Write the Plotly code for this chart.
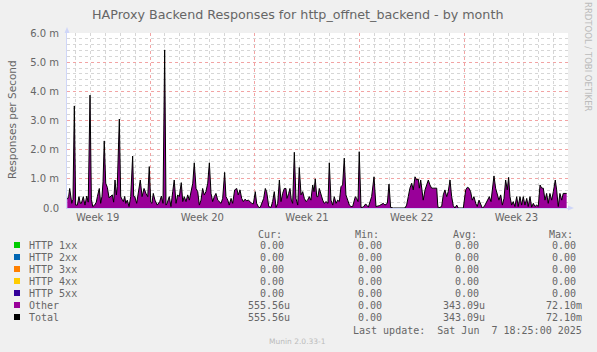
import plotly.graph_objects as go

# ---------------- data ----------------
# time in days since the start of the "Week 19" interval
DAYS = [1.47, 1.56, 1.63, 1.70, 1.77, 1.85, 1.94, 2.03, 2.14, 2.25, 2.34, 2.41, 2.54, 2.65, 2.77, 2.87,
        2.99, 3.08, 3.17, 3.30, 3.41, 3.48, 3.61, 3.70, 3.79, 3.86, 3.94, 4.04, 4.15, 4.26, 4.37, 4.48,
        4.57, 4.66, 4.75, 4.81, 4.95, 5.04, 5.13, 5.22, 5.31, 5.38, 5.48, 5.60, 5.71, 5.80, 5.84, 5.91,
        5.98, 6.11, 6.24, 6.35, 6.47, 6.60, 6.73, 6.85, 6.95, 7.05, 7.13, 7.22, 7.33, 7.49, 7.65, 7.76,
        7.87, 7.98, 8.07, 8.14, 8.29, 8.40, 8.52, 8.62, 8.74, 8.85, 8.96, 9.09, 9.19, 9.29, 9.41, 9.52,
        9.63, 9.76, 9.86, 9.96, 10.08, 10.19, 10.30, 10.41, 10.52, 10.63, 10.74, 10.86, 10.97, 11.08,
        11.19, 11.30, 11.41, 11.53, 11.63, 11.75, 11.86, 11.99, 12.08, 12.20, 12.30, 12.42, 12.53,
        12.66, 12.80, 12.90, 13.02, 13.13, 13.24, 13.35, 13.47, 13.57, 13.69, 13.80, 13.91, 14.04,
        14.13, 14.27, 14.37, 14.49, 14.60, 14.71, 14.80, 14.94, 15.09, 15.20, 15.31, 15.43, 15.54,
        15.65, 15.76, 15.87, 15.98, 16.09, 16.16, 16.27, 16.36, 16.45, 16.54, 16.65, 16.76, 16.88,
        16.98, 17.10, 17.21, 17.32, 17.43, 17.54, 17.65, 17.76, 17.88, 17.97, 18.05, 18.15, 18.23,
        18.32, 18.43, 18.55, 18.65, 18.77, 18.90, 18.99, 19.10, 19.22, 19.32, 19.44, 19.55, 19.66,
        19.77, 19.88, 19.99, 20.10, 20.22, 20.33, 20.44, 20.55, 20.73, 20.82, 20.91, 20.99, 21.11,
        21.26, 21.42, 21.60, 21.82, 21.98, 22.11, 22.33, 22.60, 22.71, 22.87, 22.98, 23.09, 23.27,
        24.05, 24.16, 24.27, 24.38, 24.50, 24.60, 24.72, 24.83, 24.94, 25.01, 25.10, 25.19, 25.27,
        25.39, 25.50, 25.61, 25.72, 25.83, 25.94, 26.06, 26.17, 26.24, 26.28, 26.50, 26.61, 26.72,
        26.84, 26.94, 27.06, 27.17, 27.28, 27.39, 27.51, 27.61, 27.95, 28.11, 28.22, 28.33, 28.44,
        28.55, 28.66, 28.78, 28.88, 29.00, 29.11, 29.22, 29.35, 29.47, 29.58, 29.69, 29.80, 29.91,
        30.00, 30.11, 30.22, 30.33, 30.45, 30.56, 30.67, 30.78, 30.89, 30.98, 31.07, 31.18, 31.29,
        31.40, 31.52, 31.62, 31.74, 31.85, 31.96, 32.07, 32.19, 32.29, 32.41, 32.52, 32.63, 32.74,
        32.86, 32.96, 33.08, 33.19, 33.30, 33.41, 33.52, 33.63, 33.74, 33.86, 33.97, 34.10, 34.19,
        34.30, 34.41, 34.53, 34.63, 34.75, 34.86]

# "Other" responses per second, in milli-units (m)
OTHER = [0.30, 0.39, 0.67, 0.45, 0.16, 0.30, 3.50, 0.10, 0.10, 0.39, 0.16, 0.16, 0.39, 0.10, 0.41, 0.20,
         3.87, 0.30, 0.05, 0.10, 0.20, 0.39, 0.67, 0.16, 0.40, 0.90, 2.30, 0.85, 0.70, 0.35, 0.39, 0.45,
         0.20, 0.96, 0.45, 0.73, 3.05, 0.39, 0.30, 0.22, 0.40, 0.16, 0.27, 0.05, 0.39, 1.70, 1.78, 0.40,
         0.39, 0.16, 0.67, 0.96, 0.39, 0.67, 0.50, 0.39, 1.42, 0.20, 0.16, 0.50, 0.27, 0.10, 0.22, 0.41,
         0.16, 5.42, 0.10, 0.16, 0.39, 0.05, 0.56, 0.96, 0.16, 0.45, 0.39, 0.87, 0.22, 0.39, 0.22, 0.45,
         0.27, 0.56, 0.85, 1.55, 0.67, 0.56, 0.10, 0.27, 0.67, 0.45, 0.56, 0.85, 1.55, 0.50,
         0.22, 0.39, 0.50, 0.27, 0.22, 0.16, 0.33, 1.22, 0.39, 0.27, 0.10, 0.33, 0.16,
         0.62, 0.67, 0.45, 0.62, 0.33, 0.22, 0.30, 0.25, 0.27, 0.22, 0.16, 0.14, 0.56,
         0.16, 0.02, 0.02, 0.16, 0.33, 0.67, 0.56, 0.05, 0.02, 0.22, 0.56, 0.02, 0.16,
         0.96, 0.22, 0.50, 0.67, 0.67, 0.33, 0.50, 0.67, 0.27, 0.16, 1.91, 0.33, 0.10,
         1.39, 0.45, 0.56, 0.33, 0.22, 0.27, 0.39, 0.27, 0.79, 0.56, 1.00, 0.39, 0.39,
         0.67, 0.45, 0.27, 0.16, 0.22, 0.16, 1.55, 0.27, 0.10, 0.39, 0.16, 0.27, 0.22,
         0.73, 0.79, 1.71, 0.45, 0.27, 0.10, 0.05, 0.05, 0.39, 0.33, 0.22, 1.93, 0.02,
         0.03, 0.14, 0.03, 0.39, 1.07, 0.05, 0.08, 0.16, 0.10, 0.16, 0.82, 0.02, 0.00,
         0.00, 0.10, 0.39, 0.68, 0.85, 0.62, 1.07, 0.96, 0.99, 0.68, 0.96, 0.56, 0.27,
         0.62, 0.79, 0.96, 0.79, 0.68, 0.68, 0.68, 0.68, 0.10, 0.00, 0.05, 0.45, 0.62,
         0.39, 0.56, 0.96, 0.39, 0.08, 0.00, 0.10, 0.00, 0.00, 0.62, 0.71, 0.68, 0.56,
         0.27, 0.39, 0.16, 0.05, 0.27, 0.10, 0.00, 0.05, 0.16, 0.27, 0.39, 0.22, 0.68,
         1.10, 0.68, 0.45, 0.27, 0.45, 0.10, 0.33, 0.96, 0.62, 1.05, 0.39, 0.10, 0.22,
         0.05, 0.39, 0.05, 0.39, 0.10, 0.39, 0.10, 0.33, 0.05, 0.39, 0.03, 0.16, 0.05,
         0.10, 0.05, 0.79, 0.68, 0.68, 0.27, 0.50, 0.16, 0.50, 0.27, 0.56, 0.96, 0.62,
         0.05, 0.50, 0.27, 0.50, 0.50, 0.50]

WEEK_BOUNDS = [0, 7, 14, 21, 28, 35]
WEEK_MIDS = [3.5, 10.5, 17.5, 24.5, 31.5]
WEEK_LABELS = ["Week 19", "Week 20", "Week 21", "Week 22", "Week 23"]

Y_TICKS = [0, 1, 2, 3, 4, 5, 6]
Y_LABELS = ["0.0", "1.0 m", "2.0 m", "3.0 m", "4.0 m", "5.0 m", "6.0 m"]

SERIES = ["HTTP 1xx", "HTTP 2xx", "HTTP 3xx", "HTTP 4xx", "HTTP 5xx", "Other", "Total"]
COLORS = ["#00CC00", "#0066B3", "#FF8000", "#FFCC00", "#330099", "#990099", "#000000"]
CUR = ["0.00 ", "0.00 ", "0.00 ", "0.00 ", "0.00 ", "555.56u", "555.56u"]
MIN = ["0.00 ", "0.00 ", "0.00 ", "0.00 ", "0.00 ", "0.00 ", "0.00 "]
AVG = ["0.00 ", "0.00 ", "0.00 ", "0.00 ", "0.00 ", "343.09u", "343.09u"]
MAX = ["0.00 ", "0.00 ", "0.00 ", "0.00 ", "0.00 ", "72.10m", "72.10m"]

TITLE = "HAProxy Backend Responses for http_offnet_backend - by month"
Y_TITLE = "Responses per Second"
LAST_UPDATE = "Last update:  Sat Jun  7 18:25:00 2025"
VERSION = "Munin 2.0.33-1"

# ---------------- layout geometry ----------------
W, H = 597, 352
L, R, T, B = 67, 29, 33, 144
PW, PH = W - L - R, H - T - B
BOTTOM = H - B

def px(x):
    return (x - L) / PW

def py(y):
    return (BOTTOM - y) / PH

FONT = "DejaVu Sans, Verdana, sans-serif"
MONO = "DejaVu Sans Mono, monospace"
TXT = "#666666"
AXIS = "#CFD6F8"

def nb(s):
    return s.replace(" ", "\u00a0")

# minor grid positions (daily / every 0.2), skipping the major grid positions
X_MINOR = [d for d in range(0, 36) if d % 7 != 0]
Y_MINOR = [round(k * 0.2, 1) for k in range(0, 31) if k % 5 != 0]

fig = go.Figure()
fig.add_trace(go.Scatter(x=DAYS, y=OTHER, mode="lines", line=dict(width=0, color="#990099"),
                         fill="tozeroy", fillcolor="#990099", hoverinfo="skip", showlegend=False))
fig.add_trace(go.Scatter(x=DAYS, y=OTHER, mode="lines", line=dict(width=1, color="#000000"),
                         showlegend=False))
# dummy trace so that the overlay axis is drawn
fig.add_trace(go.Scatter(x=[WEEK_BOUNDS[0]], y=[0], xaxis="x2", mode="markers",
                         marker=dict(opacity=0), hoverinfo="skip", showlegend=False))

grid_minor = "#D6D6D6"
grid_major = "#F2A4A4"

fig.update_layout(
    width=W, height=H,
    margin=dict(l=L, r=R, t=T, b=B, pad=0),
    paper_bgcolor="#F0F0F0", plot_bgcolor="#FFFFFF",
    showlegend=False,
    xaxis=dict(range=[1.45, 34.95], tickmode="array", tickvals=WEEK_MIDS, ticktext=WEEK_LABELS,
               showgrid=False, zeroline=False, ticks="", showline=True, linecolor=AXIS, linewidth=1,
               tickfont=dict(family=FONT, size=10, color=TXT),
               minor=dict(tickmode="array", tickvals=X_MINOR, showgrid=True, gridcolor=grid_minor,
                          griddash="dot", gridwidth=1, ticks="")),
    xaxis2=dict(range=[1.45, 34.95], overlaying="x", anchor="y", tickmode="array",
                tickvals=WEEK_BOUNDS, showticklabels=False, showgrid=True, gridcolor=grid_major,
                griddash="dot", gridwidth=1, zeroline=False, ticks="", showline=False),
    yaxis=dict(range=[0, 6], tickmode="array", tickvals=Y_TICKS, ticktext=Y_LABELS,
               showgrid=True, gridcolor=grid_major, griddash="dot", gridwidth=1,
               zeroline=False, ticks="", showline=True, linecolor=AXIS, linewidth=1,
               ticklabelstandoff=5,
               tickfont=dict(family=FONT, size=10, color=TXT),
               minor=dict(tickmode="array", tickvals=Y_MINOR, showgrid=True, gridcolor=grid_minor,
                          griddash="dot", gridwidth=1, ticks="")),
)

ann = []
ann.append(dict(text=TITLE, x=px(297.5), y=py(14), xref="paper", yref="paper", showarrow=False,
                xanchor="center", yanchor="middle", font=dict(family=FONT, size=12.7, color=TXT)))
ann.append(dict(text=Y_TITLE, x=px(12), y=py(120), xref="paper", yref="paper", showarrow=False,
                textangle=-90, xanchor="center", yanchor="middle",
                font=dict(family=FONT, size=10.5, color=TXT)))
ann.append(dict(text="RRDTOOL / TOBI OETIKER", x=px(588), y=py(57), xref="paper", yref="paper",
                showarrow=False, textangle=90, xanchor="center", yanchor="middle",
                font=dict(family=FONT, size=8.5, color="#BBBBBB")))

header_y = 234
for name, xl in [("Cur:", 256), ("Min:", 353), ("Avg:", 450.7), ("Max:", 546.7)]:
    ann.append(dict(text=name, x=px(xl), y=py(header_y), xref="paper", yref="paper", showarrow=False,
                    xanchor="left", yanchor="middle", font=dict(family=MONO, size=10, color=TXT)))

row_y = [245, 257, 269, 281, 293, 305, 317]
shapes = []
for i, name in enumerate(SERIES):
    yy = row_y[i]
    shapes.append(dict(type="rect", xref="paper", yref="paper", x0=px(14), x1=px(20),
                       y0=py(yy + 3), y1=py(yy - 3), fillcolor=COLORS[i], line=dict(width=0)))
    ann.append(dict(text=nb(name), x=px(27), y=py(yy), xref="paper", yref="paper", showarrow=False,
                    xanchor="left", yanchor="middle", font=dict(family=MONO, size=10, color=TXT)))
    for col, xr in [(CUR, 292), (MIN, 389.5), (AVG, 487), (MAX, 583.5)]:
        ann.append(dict(text=nb(col[i]), x=px(xr), y=py(yy), xref="paper", yref="paper",
                        showarrow=False, xanchor="right", yanchor="middle",
                        font=dict(family=MONO, size=10, color=TXT)))

ann.append(dict(text=nb(LAST_UPDATE), x=px(583.5), y=py(330), xref="paper", yref="paper",
                showarrow=False, xanchor="right", yanchor="middle",
                font=dict(family=MONO, size=10, color=TXT)))
ann.append(dict(text=VERSION, x=px(297.5), y=py(341), xref="paper", yref="paper", showarrow=False,
                xanchor="center", yanchor="middle", font=dict(family=FONT, size=7.5, color="#BBBBBB")))

# axis arrow heads
shapes.append(dict(type="path", xref="paper", yref="paper",
                   path=f"M {px(64.5)} {py(33)} L {px(69.5)} {py(33)} L {px(67)} {py(27)} Z",
                   fillcolor=AXIS, line=dict(width=0)))
shapes.append(dict(type="path", xref="paper", yref="paper",
                   path=f"M {px(568)} {py(205.5)} L {px(568)} {py(210.5)} L {px(574)} {py(208)} Z",
                   fillcolor=AXIS, line=dict(width=0)))

fig.update_layout(annotations=ann, shapes=shapes)
fig.write_html("out.html")
